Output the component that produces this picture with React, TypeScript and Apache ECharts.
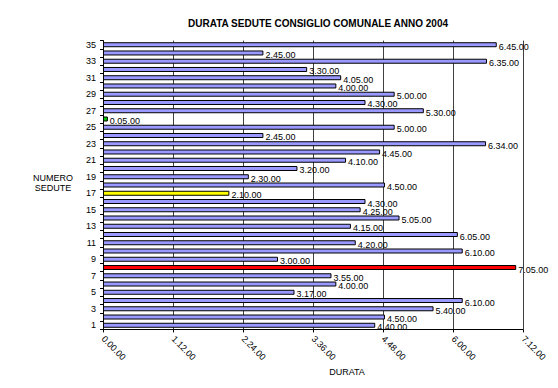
import React, { useEffect, useRef } from "react";
import * as echarts from "echarts";

const categories: string[] = Array.from({ length: 35 }, (_, i) => String(i + 1));
// durations in minutes, sessions 1..35
const durations: number[] = [
  280, 290, 340, 370, 197, 240, 235, 425, 180, 370,
  260, 365, 255, 305, 265, 270, 130, 290, 150, 200,
  250, 285, 394, 165, 300, 5, 330, 270, 300, 240,
  245, 210, 395, 165, 405,
];
const highlightColors: Record<number, string> = { 8: "#ff0000", 17: "#ffff00", 26: "#00cc00" };
const tickMinutes: number[] = [0, 72, 144, 216, 288, 360, 432];
const titleText = "DURATA SEDUTE CONSIGLIO COMUNALE ANNO 2004";
const xName = "DURATA";
const yName = "NUMERO\nSEDUTE";

function fmt(m: number): string {
  const h = Math.floor(m / 60);
  const mm = Math.round(m - h * 60);
  return `${h}.${mm < 10 ? "0" + mm : mm}.00`;
}

export default function App() {
  const ref = useRef<HTMLDivElement>(null);
  useEffect(() => {
    if (!ref.current) return;
    const chart = echarts.init(ref.current, undefined, { renderer: "svg" });
    const font = "Liberation Sans, Arial, sans-serif";
    chart.setOption({
      animation: false,
      backgroundColor: "#ffffff",
      textStyle: { fontFamily: font },
      grid: { left: 103, right: 35, top: 40.6, bottom: 58.6, containLabel: false },
      xAxis: {
        type: "value",
        min: tickMinutes[0],
        max: tickMinutes[tickMinutes.length - 1],
        interval: 72,
        axisLine: { show: true, lineStyle: { color: "#000", width: 1 } },
        axisTick: { show: true, length: 3, lineStyle: { color: "#000" } },
        splitLine: { show: true, lineStyle: { color: "#404040", width: 1 } },
        axisLabel: {
          rotate: -45,
          fontSize: 9,
          color: "#000",
          margin: 8,
          fontFamily: font,
          formatter: (v: number) => fmt(v),
        },
      },
      yAxis: {
        type: "category",
        data: categories,
        axisLine: { show: true, lineStyle: { color: "#000", width: 1 } },
        axisTick: { show: true, length: 3, alignWithLabel: false, interval: 0, lineStyle: { color: "#000" } },
        splitLine: { show: false },
        axisLabel: { interval: 1, fontSize: 9, color: "#000", margin: 7, fontFamily: font },
      },
      title: {
        text: titleText,
        left: 313,
        top: 13,
        textAlign: "center",
        textStyle: { fontSize: 10, fontWeight: "bold", color: "#000", fontFamily: font },
      },
      graphic: [
        {
          type: "text",
          x: 347,
          y: 372,
          style: { text: xName, fill: "#000", align: "center", verticalAlign: "middle", font: `9px ${font}` },
        },
        {
          type: "text",
          x: 53,
          y: 183,
          style: { text: yName, fill: "#000", align: "center", verticalAlign: "middle", lineHeight: 10, font: `9px ${font}` },
        },
      ],
      series: [
        {
          type: "bar",
          data: durations.map((v, i) => ({
            value: v,
            itemStyle: { color: highlightColors[i + 1] || "#9999ff" },
          })),
          barWidth: 5,
          itemStyle: { borderColor: "#000", borderWidth: 1 },
          label: {
            show: true,
            position: "right",
            distance: 2,
            offset: [0, 2],
            fontSize: 9,
            color: "#000",
            fontFamily: font,
            formatter: (p: any) => fmt(p.value),
          },
        },
      ],
    });
    return () => chart.dispose();
  }, []);
  return <div ref={ref} style={{ width: 558, height: 388, position: "absolute", left: 0, top: 0 }} />;
}
